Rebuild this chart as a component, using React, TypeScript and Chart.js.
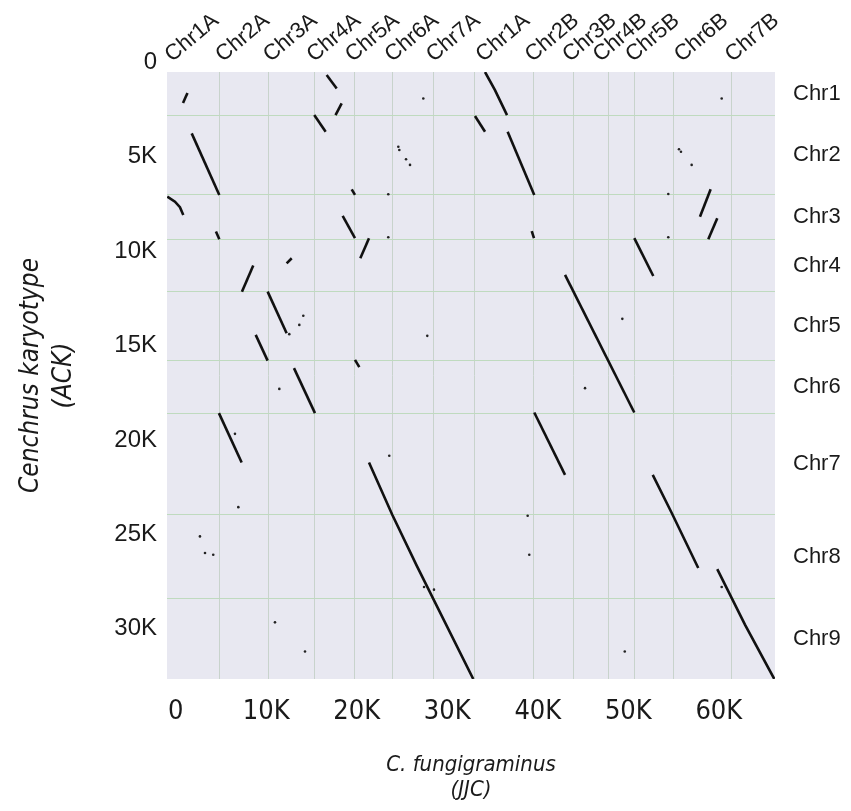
import React, { useEffect, useRef } from 'react';
import { Chart, registerables } from 'chart.js';

Chart.register(...registerables);

// ---- axis ticks ----
const X_TICKS = [0, 10000, 20000, 30000, 40000, 50000, 60000];
const X_TICK_LABELS = ['0', '10K', '20K', '30K', '40K', '50K', '60K'];
const Y_TICKS = [0, 5000, 10000, 15000, 20000, 25000, 30000];
const Y_TICK_LABELS = ['0', '5K', '10K', '15K', '20K', '25K', '30K'];

// ---- chromosome blocks (gene index) ----
const X_CHR_LABELS = ['Chr1A', 'Chr2A', 'Chr3A', 'Chr4A', 'Chr5A', 'Chr6A', 'Chr7A', 'Chr1A', 'Chr2B', 'Chr3B', 'Chr4B', 'Chr5B', 'Chr6B', 'Chr7B'];
const X_CHR_BOUNDS = [-970, 4810, 10220, 15380, 19800, 23920, 28530, 33060, 39500, 43920, 47790, 50660, 54970, 61430, 66210];
const Y_CHR_LABELS = ['Chr1', 'Chr2', 'Chr3', 'Chr4', 'Chr5', 'Chr6', 'Chr7', 'Chr8', 'Chr9'];
const Y_CHR_BOUNDS = [520, 2800, 7030, 9380, 12150, 15800, 18580, 23960, 28420, 32660];

// ---- syntenic blocks: [JJC gene index, ACK gene index] ----
const BLOCKS_A: number[][][] = [
  [[1290, 1630], [800, 2160]],
  [[16670, 680], [17780, 1390]],
  [[18330, 2180], [17650, 2800]],
  [[15300, 2800], [16560, 3680]],
  [[1760, 3770], [4810, 7030]],
  [[-940, 7120], [-90, 7390], [460, 7680], [830, 8090]],
  [[4440, 8970], [4810, 9380]],
  [[19440, 6730], [19800, 7030]],
  [[18440, 8140], [19800, 9320]],
  [[21350, 9320], [20390, 10380]],
  [[12810, 10380], [12250, 10650]],
  [[8560, 10770], [7310, 12150]],
  [[10150, 12150], [12250, 14350]],
  [[8830, 14440], [10150, 15800]],
  [[19800, 15760], [20280, 16150]],
  [[13060, 16200], [15380, 18580]],
  [[4770, 18580], [7280, 21200]],
  [[21350, 21200], [23920, 23960], [26620, 26660], [32870, 32660]],
];

const BLOCKS_B: number[][][] = [
  [[34170, 520], [35270, 1480], [36600, 2800]],
  [[33060, 2850], [34170, 3680]],
  [[36670, 3680], [39610, 7030]],
  [[39330, 8940], [39580, 9320]],
  [[50660, 9320], [52760, 11320]],
  [[59100, 6730], [57920, 8180]],
  [[59830, 8260], [58840, 9380]],
  [[43010, 11260], [50660, 18550]],
  [[39610, 18550], [43010, 21850]],
  [[52700, 21850], [54800, 23870], [57730, 26780]],
  [[59830, 26840], [62890, 29780], [66130, 32660]],
];

const DOTS: number[][] = [
  [27350, 1920], [60320, 1920], [24590, 4480], [24700, 4650], [25440, 5140], [25880, 5440],
  [23480, 6990], [23480, 9270], [12540, 14400], [14090, 13430], [13650, 13910], [27790, 14490],
  [11440, 17300], [6540, 19680], [23590, 20840], [6910, 23560], [2670, 25110], [3230, 25990],
  [4140, 26080], [27430, 27790], [28530, 27930], [10960, 29660], [14280, 31200],
  [55600, 4610], [55820, 4740], [57000, 5440], [54420, 6980], [54420, 9270], [49340, 13590],
  [45220, 17260], [60320, 27790], [38880, 24020], [39060, 26080], [49610, 31200],
];

const PLOT_BG = '#E8E8F1';
const V_GRID = '#C8D3CC';
const H_GRID = '#BFDABF';
const SANS = '"Liberation Sans", Arial, sans-serif';
const NARROW = '"Liberation Sans Narrow", "Arial Narrow", "DejaVu Sans Condensed", sans-serif';

const mid = (b: number[]) => b.slice(0, -1).map((v, i) => (v + b[i + 1]) / 2);

const bgPlugin = {
  id: 'plotBg',
  beforeDraw(chart: any) {
    const { ctx, chartArea: a } = chart;
    ctx.save();
    ctx.fillStyle = PLOT_BG;
    ctx.fillRect(a.left, a.top, a.right - a.left, a.bottom - a.top);
    ctx.restore();
  },
};

export default function App() {
  const ref = useRef<HTMLCanvasElement | null>(null);

  useEffect(() => {
    document.body.style.margin = '0';
    if (!ref.current) return;
    const xMin = X_CHR_BOUNDS[0];
    const xMax = X_CHR_BOUNDS[X_CHR_BOUNDS.length - 1];
    const yMin = Y_CHR_BOUNDS[0];
    const yMax = Y_CHR_BOUNDS[Y_CHR_BOUNDS.length - 1];
    const xCenters = mid(X_CHR_BOUNDS);
    const yCenters = mid(Y_CHR_BOUNDS);

    const lineDs = (pts: number[][]) => ({
      type: 'line' as const,
      data: pts.map(([x, y]) => ({ x, y })),
      showLine: true,
      borderColor: '#111111',
      borderWidth: 2.6,
      pointRadius: 0,
      tension: 0,
      fill: false,
    });

    const datasets: any[] = [
      ...BLOCKS_A.map(lineDs),
      ...BLOCKS_B.map(lineDs),
      {
        type: 'scatter',
        data: DOTS.map(([x, y]) => ({ x, y })),
        pointRadius: 1.3,
        pointBackgroundColor: '#222222',
        pointBorderWidth: 0,
        showLine: false,
      },
    ];

    const chart = new Chart(ref.current, {
      type: 'scatter',
      data: { datasets },
      plugins: [bgPlugin],
      options: {
        animation: false,
        responsive: false,
        devicePixelRatio: 1,
        layout: { padding: 0 },
        plugins: { legend: { display: false }, tooltip: { enabled: false } },
        scales: {
          x: {
            type: 'linear',
            position: 'bottom',
            min: xMin,
            max: xMax,
            afterBuildTicks: (ax: any) => { ax.ticks = X_TICKS.map((v) => ({ value: v })); },
            afterFit: (s: any) => { s.height = 132; },
            ticks: {
              autoSkip: false,
              maxRotation: 0,
              padding: 17,
              color: '#1a1a1a',
              font: { family: NARROW, size: 27 },
              callback: (_v: any, i: number) => X_TICK_LABELS[i],
            },
            grid: { display: false, drawTicks: false },
            border: { display: false },
            title: {
              display: true,
              text: ['C. fungigraminus', '(JJC)'],
              color: '#1a1a1a',
              font: { family: NARROW, size: 22, style: 'italic', lineHeight: 1.15 },
              padding: { top: 0, bottom: 8 },
            },
          },
          xTop: {
            type: 'linear',
            position: 'top',
            min: xMin,
            max: xMax,
            afterBuildTicks: (ax: any) => { ax.ticks = xCenters.map((v) => ({ value: v })); },
            afterFit: (s: any) => { s.height = 72; },
            ticks: {
              autoSkip: false,
              minRotation: 40,
              maxRotation: 40,
              padding: 4,
              labelOffset: -8,
              color: '#1a1a1a',
              font: { family: SANS, size: 22 },
              callback: (_v: any, i: number) => X_CHR_LABELS[i],
            },
            grid: { display: false, drawTicks: false },
            border: { display: false },
          },
          xGrid: {
            type: 'linear',
            position: 'top',
            min: xMin,
            max: xMax,
            afterBuildTicks: (ax: any) => { ax.ticks = X_CHR_BOUNDS.slice(1, -1).map((v) => ({ value: v })); },
            afterFit: (s: any) => { s.height = 0; },
            ticks: { display: false },
            grid: { display: true, drawTicks: false, color: V_GRID, lineWidth: 1 },
            border: { display: false },
          },
          y: {
            type: 'linear',
            position: 'left',
            reverse: true,
            min: yMin,
            max: yMax,
            afterBuildTicks: (ax: any) => { ax.ticks = Y_TICKS.map((v) => ({ value: v })); },
            afterFit: (s: any) => { s.width = 167; },
            ticks: {
              autoSkip: false,
              padding: 10,
              color: '#1a1a1a',
              font: { family: SANS, size: 24 },
              callback: (_v: any, i: number) => Y_TICK_LABELS[i],
            },
            grid: { display: false, drawTicks: false },
            border: { display: false },
            title: {
              display: true,
              text: ['Cenchrus karyotype', '(ACK)'],
              color: '#1a1a1a',
              font: { family: NARROW, size: 26, style: 'italic', lineHeight: 1.3 },
              padding: { top: 14, bottom: 0 },
            },
          },
          yGrid: {
            type: 'linear',
            position: 'left',
            reverse: true,
            min: yMin,
            max: yMax,
            afterBuildTicks: (ax: any) => { ax.ticks = Y_CHR_BOUNDS.slice(1, -1).map((v) => ({ value: v })); },
            afterFit: (s: any) => { s.width = 0; },
            ticks: { display: false },
            grid: { display: true, drawTicks: false, color: H_GRID, lineWidth: 1 },
            border: { display: false },
          },
          y2: {
            type: 'linear',
            position: 'right',
            reverse: true,
            min: yMin,
            max: yMax,
            afterBuildTicks: (ax: any) => { ax.ticks = yCenters.map((v) => ({ value: v })); },
            afterFit: (s: any) => { s.width = 76; },
            ticks: {
              autoSkip: false,
              padding: 18,
              color: '#1a1a1a',
              font: { family: SANS, size: 22 },
              callback: (_v: any, i: number) => Y_CHR_LABELS[i],
            },
            grid: { display: false, drawTicks: false },
            border: { display: false },
          },
        },
      } as any,
    });
    return () => chart.destroy();
  }, []);

  return (
    <div style={{ width: 851, height: 811 }}>
      <canvas ref={ref} width={851} height={811} style={{ display: 'block' }} />
    </div>
  );
}
